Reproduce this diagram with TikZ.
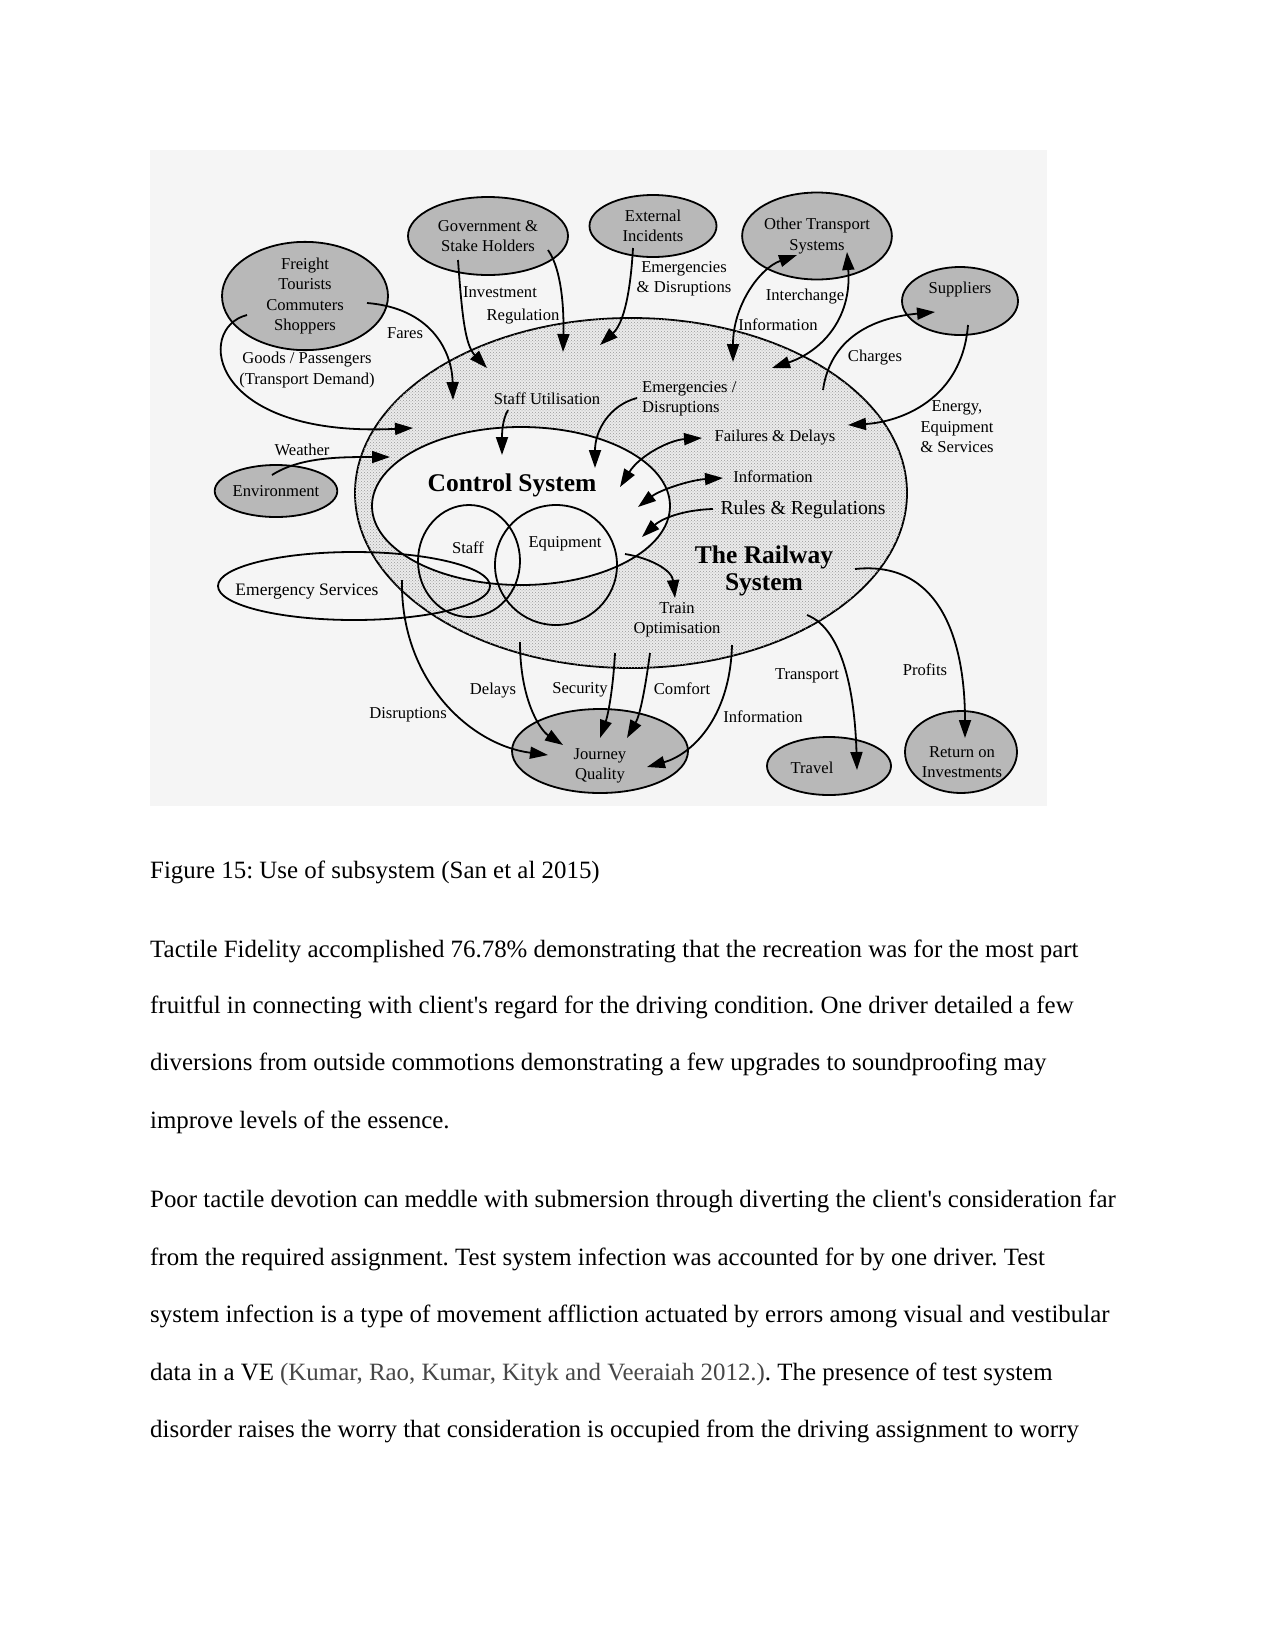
\documentclass[tikz,border=0pt]{standalone}
\usepackage{fontspec}
\setmainfont{Liberation Serif}
\usetikzlibrary{shapes.geometric,arrows.meta,patterns}
\newcommand\lblf{\fontsize{16.6}{20.5}\selectfont}
\newcommand\bodyf{\fontsize{24.9}{30}\selectfont}
\newcommand\bigf{\fontsize{25.5}{30}\selectfont\bfseries}
\frenchspacing
\begin{document}
\begin{tikzpicture}[x=1pt,y=-1pt,
  every node/.style={inner sep=0pt},
  lbl/.style={font=\lblf, align=center},
  ell/.style={ellipse, draw, line width=1.8pt, inner sep=0pt},
  actor/.style={ell, fill=black!28, font=\lblf, align=center},
  arr/.style={line width=1.8pt, -{Triangle[length=18pt,width=12pt]}},
  darr/.style={line width=1.8pt, {Triangle[length=18pt,width=12pt]}-{Triangle[length=18pt,width=12pt]}},
  body/.style={anchor=base west, font=\bodyf}]
\useasboundingbox (0,0) rectangle (1275,1650);
\fill[white] (0,0) rectangle (1275,1650);
% diagram panel
\fill[black!4] (150,150) rectangle (1047,806);

% railway system
\node[ell, fill=black!8, postaction={pattern=crosshatch dots, pattern color=black!40},
      minimum width=552pt, minimum height=350pt] (rail) at (631,493) {};
\node[ell, fill=black!4, minimum width=298pt, minimum height=158pt] (ctrl) at (521,506) {};
\node[ell, minimum width=102pt, minimum height=112pt] (staffc) at (469,561) {};
\node[ell, minimum width=122pt, minimum height=120pt] (equipc) at (556,565) {};
\node[ell, minimum width=272pt, minimum height=68pt] (emerg) at (354,586) {};

\node[font=\bigf] (ctrltxt) at (512,485) {Control System};
\node[font=\bigf, align=center] (railtxt) at (764,571) {The Railway\\[-3pt]System};
\node[lbl] (stafftxt) at (468,548) {Staff};
\node[lbl] (equiptxt) at (565,544) {Equipment};
\node[lbl, font=\fontsize{17.5}{20}\selectfont] (emergtxt) at (307,592) {Emergency Services};

% external actors
\node[actor, minimum width=166pt, minimum height=96pt] (freight) at (305,296) {Freight\\Tourists\\Commuters\\Shoppers};
\node[actor, minimum width=160pt, minimum height=78pt] (gov) at (488,236) {Government \&\\Stake Holders};
\node[actor, minimum width=127pt, minimum height=62pt] (ext) at (653,226) {External\\Incidents};
\node[actor, minimum width=140pt, minimum height=87pt] (ots) at (817,236) {Other Transport\\Systems};
\node[actor, minimum width=116pt, minimum height=68pt] (sup) at (960,301) {};
\node[lbl] (suptxt) at (960,290) {Suppliers};
\node[actor, minimum width=116pt, minimum height=52pt] (env) at (276,491) {Environment};
\node[actor, minimum width=176pt, minimum height=84pt] (jq) at (600,751) {};
\node[lbl] (jqtxt) at (600,766) {Journey\\Quality};
\node[actor, minimum width=124pt, minimum height=58pt] (travel) at (829,766) {};
\node[lbl] (traveltxt) at (812,768) {Travel};
\node[actor, minimum width=112pt, minimum height=82pt] (roi) at (961,752) {};
\node[lbl] (roitxt) at (962,762) {Return on\\Investments};

% labels
\node[lbl] (fares) at (405,333) {Fares};
\node[lbl] (goods) at (307,370) {Goods / Passengers\\(Transport Demand)};
\node[lbl] (invest) at (500,292) {Investment};
\node[lbl] (regul) at (523,317) {Regulation};
\node[lbl] (staffu) at (547,399) {Staff Utilisation};
\node[lbl] (weather) at (302,450) {Weather};
\node[lbl] (emdis) at (684,279) {Emergencies\\\& Disruptions};
\node[lbl] (interch) at (805,297) {Interchange};
\node[lbl] (infotop) at (778,325) {Information};
\node[lbl] (charges) at (875,358) {Charges};
\node[lbl] (energy) at (957,427) {Energy,\\Equipment\\\& Services};
\node[lbl, align=left, anchor=west] (emdis2) at (642,399) {Emergencies /\\Disruptions};
\node[lbl] (faildel) at (775,438) {Failures \& Delays};
\node[lbl] (infoin) at (773,477) {Information};
\node[lbl, font=\fontsize{19.8}{22}\selectfont] (rules) at (803,510) {Rules \& Regulations};
\node[lbl] (trainopt) at (677,620) {Train\\Optimisation};
\node[lbl] (delays) at (493,691) {Delays};
\node[lbl] (disr) at (408,715) {Disruptions};
\node[lbl] (secur) at (580,690) {Security};
\node[lbl] (comfort) at (682,689) {Comfort};
\node[lbl] (infolow) at (763,717) {Information};
\node[lbl] (transp) at (807,676) {Transport};
\node[lbl] (profits) at (925,670) {Profits};

% connector end points
\coordinate (fareS) at (367,303); \coordinate (fareE) at (453,400);
\coordinate (goodS) at (247,315); \coordinate (goodE) at (413,428);
\coordinate (invS) at (458,260);  \coordinate (invE) at (487,368);
\coordinate (regS) at (548,250);  \coordinate (regE) at (563,352);
\coordinate (suS) at (508,410);   \coordinate (suE) at (502,455);
\coordinate (weaS) at (272,475);  \coordinate (weaE) at (390,457);
\coordinate (extS) at (633,248);  \coordinate (extE) at (600,345);
\coordinate (infA) at (733,362);  \coordinate (infB) at (797,255);
\coordinate (intA) at (847,252);  \coordinate (intB) at (772,368);
\coordinate (chS) at (823,390);   \coordinate (chE) at (935,312);
\coordinate (enS) at (968,325);   \coordinate (enE) at (848,425);
\coordinate (edS) at (637,398);   \coordinate (edE) at (595,468);
\coordinate (fdA) at (620,487);   \coordinate (fdB) at (702,438);
\coordinate (ifA) at (638,507);   \coordinate (ifB) at (723,478);
\coordinate (rrS) at (713,509);   \coordinate (rrE) at (642,537);
\coordinate (toS) at (625,554);   \coordinate (toE) at (675,598);
\coordinate (prS) at (855,569);   \coordinate (prE) at (965,738);
\coordinate (trS) at (807,615);   \coordinate (trE) at (857,770);
\coordinate (ilS) at (732,645);   \coordinate (ilE) at (647,767);
\coordinate (coS) at (650,653);   \coordinate (coE) at (627,738);
\coordinate (seS) at (615,653);   \coordinate (seE) at (600,738);
\coordinate (deS) at (520,642);   \coordinate (deE) at (563,745);
\coordinate (diS) at (402,580);   \coordinate (diE) at (548,755);

% connectors
\draw[arr] (fareS) .. controls (430,308) and (452,350) .. (fareE);
\draw[arr] (goodS) .. controls (195,328) and (208,438) .. (goodE);
\draw[arr] (invS) .. controls (462,315) and (465,345) .. (invE);
\draw[arr] (regS) .. controls (562,270) and (564,310) .. (regE);
\draw[arr] (suS) .. controls (502,420) and (502,435) .. (suE);
\draw[arr] (weaS) .. controls (300,457) and (340,457) .. (weaE);
\draw[arr] (extS) .. controls (630,300) and (622,325) .. (extE);
\draw[darr] (infA) .. controls (733,305) and (760,268) .. (infB);
\draw[darr] (intA) .. controls (852,320) and (820,352) .. (intB);
\draw[arr] (chS) .. controls (830,340) and (870,318) .. (chE);
\draw[arr] (enS) .. controls (962,400) and (900,422) .. (enE);
\draw[arr] (edS) .. controls (610,405) and (595,430) .. (edE);
\draw[darr] (fdA) .. controls (640,455) and (670,440) .. (fdB);
\draw[darr] (ifA) .. controls (660,490) and (690,480) .. (ifB);
\draw[arr] (rrS) .. controls (680,510) and (660,520) .. (rrE);
\draw[arr] (toS) .. controls (650,558) and (672,570) .. (toE);
\draw[arr] (prS) .. controls (940,560) and (965,640) .. (prE);
\draw[arr] (trS) .. controls (845,630) and (855,700) .. (trE);
\draw[arr] (ilS) .. controls (730,720) and (690,755) .. (ilE);
\draw[arr] (coS) .. controls (645,690) and (640,715) .. (coE);
\draw[arr] (seS) .. controls (613,690) and (608,715) .. (seE);
\draw[arr] (deS) .. controls (520,700) and (540,730) .. (deE);
\draw[arr] (diS) .. controls (400,680) and (470,745) .. (diE);

% page text
\node[body] (cap) at (150,878) {Figure 15: Use of subsystem (San et al 2015)};
\node[body] (p1) at (150,957) {Tactile Fidelity accomplished 76.78\% demonstrating that the recreation was for the most part};
\node[body] (p2) at (150,1013) {fruitful in connecting with client\textquotesingle s regard for the driving condition. One driver detailed a few};
\node[body] (p3) at (150,1070) {diversions from outside commotions demonstrating a few upgrades to soundproofing may};
\node[body] (p4) at (150,1128) {improve levels of the essence.};
\node[body] (q1) at (150,1207) {Poor tactile devotion can meddle with submersion through diverting the client\textquotesingle s consideration far};
\node[body] (q2) at (150,1265) {from the required assignment. Test system infection was accounted for by one driver. Test};
\node[body] (q3) at (150,1322) {system infection is a type of movement affliction actuated by errors among visual and vestibular};
\node[body] (q4) at (150,1380) {data in a VE {\color{black!72}(Kumar, Rao, Kumar, Kityk and Veeraiah 2012.)}. The presence of test system};
\node[body] (q5) at (150,1437) {disorder raises the worry that consideration is occupied from the driving assignment to worry};
\end{tikzpicture}
\end{document}
